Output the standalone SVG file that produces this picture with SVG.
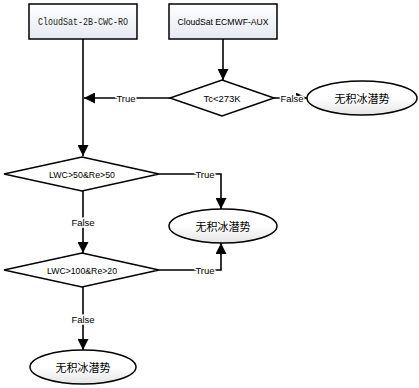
<svg xmlns="http://www.w3.org/2000/svg" width="419" height="388" viewBox="0 0 419 388">
<defs>
<linearGradient id="gb" x1="0" y1="0" x2="0" y2="1"><stop offset="0" stop-color="#ffffff"/><stop offset="1" stop-color="#e6e9f2"/></linearGradient>
<linearGradient id="ge" x1="0" y1="0" x2="0" y2="1"><stop offset="0" stop-color="#ffffff"/><stop offset="0.5" stop-color="#ffffff"/><stop offset="1" stop-color="#e4e4e4"/></linearGradient>
<marker id="ah" markerWidth="11" markerHeight="11" viewBox="0 0 10 10" refX="10" refY="5" orient="auto" markerUnits="userSpaceOnUse"><path d="M0,0 L10,5 L0,10 Z" fill="#000"/></marker>
<style>
.box{fill:url(#gb);stroke:#000;stroke-width:1.5}
.dia{fill:#fff;stroke:#000;stroke-width:1.5}
.ell{fill:url(#ge);stroke:#000;stroke-width:1.5}
.ln{fill:none;stroke:#000;stroke-width:1.6}
.t{font-family:"Liberation Sans",Arial,sans-serif;font-size:9.5px;text-anchor:middle;dominant-baseline:central;fill:#000}
.m{font-family:"Liberation Mono","DejaVu Sans Mono",monospace;font-size:11px;text-anchor:middle;dominant-baseline:central;fill:#222}
.c{font-family:"Noto Sans CJK SC","Noto Sans",sans-serif;font-size:11px;text-anchor:middle;dominant-baseline:central;fill:#000}
.lb{font-family:"Liberation Sans",Arial,sans-serif;font-size:9.5px;text-anchor:middle;dominant-baseline:central;fill:#000;stroke:#fff;stroke-width:3;paint-order:stroke}
</style>
</defs>
<g id="connectors">
<path class="ln" d="M83,39 V156" marker-end="url(#ah)"/>
<path class="ln" d="M170,98 H84" marker-end="url(#ah)"/>
<path class="ln" d="M223,39 V80" marker-end="url(#ah)"/>
<path class="ln" d="M274,98 H307" marker-end="url(#ah)"/>
<path class="ln" d="M159,174 H221 V209" marker-end="url(#ah)"/>
<path class="ln" d="M83,191 V253" marker-end="url(#ah)"/>
<path class="ln" d="M159,270 H221 V243" marker-end="url(#ah)"/>
<path class="ln" d="M83,287 V350" marker-end="url(#ah)"/>
<text class="lb" x="126" y="98">True</text>
<text class="lb" x="292" y="98">False</text>
<text class="lb" x="205" y="174">True</text>
<text class="lb" x="83" y="222">False</text>
<text class="lb" x="205" y="270">True</text>
<text class="lb" x="83" y="319">False</text>
</g>
<g id="n1"><rect class="box" x="29" y="4" width="108" height="35"/><text class="m" x="83" y="21.5" textLength="90" lengthAdjust="spacingAndGlyphs">CloudSat-2B-CWC-RO</text></g>
<g id="n2"><rect class="box" x="169" y="4" width="108" height="35"/><text class="t" x="223" y="21.5" textLength="91" lengthAdjust="spacingAndGlyphs">CloudSat ECMWF-AUX</text></g>
<g id="d1"><path class="dia" d="M222,80 L274,98 L222,116 L170,98 Z"/><text class="t" x="222" y="98">Tc&lt;273K</text></g>
<g id="e1"><ellipse class="ell" cx="362" cy="98" rx="55" ry="17"/><text class="c" x="362" y="98">无积冰潜势</text></g>
<g id="d2"><path class="dia" d="M82,157 L159,174 L82,191 L4,174 Z"/><text class="t" x="82" y="174" textLength="66" lengthAdjust="spacingAndGlyphs">LWC&gt;50&amp;Re&gt;50</text></g>
<g id="e2"><ellipse class="ell" cx="223" cy="226" rx="54" ry="17"/><text class="c" x="223" y="226">无积冰潜势</text></g>
<g id="d3"><path class="dia" d="M82,253 L159,270 L82,287 L4,270 Z"/><text class="t" x="82" y="270" textLength="70" lengthAdjust="spacingAndGlyphs">LWC&gt;100&amp;Re&gt;20</text></g>
<g id="e3"><ellipse class="ell" cx="83" cy="367" rx="53" ry="17"/><text class="c" x="83" y="367">无积冰潜势</text></g>
</svg>
